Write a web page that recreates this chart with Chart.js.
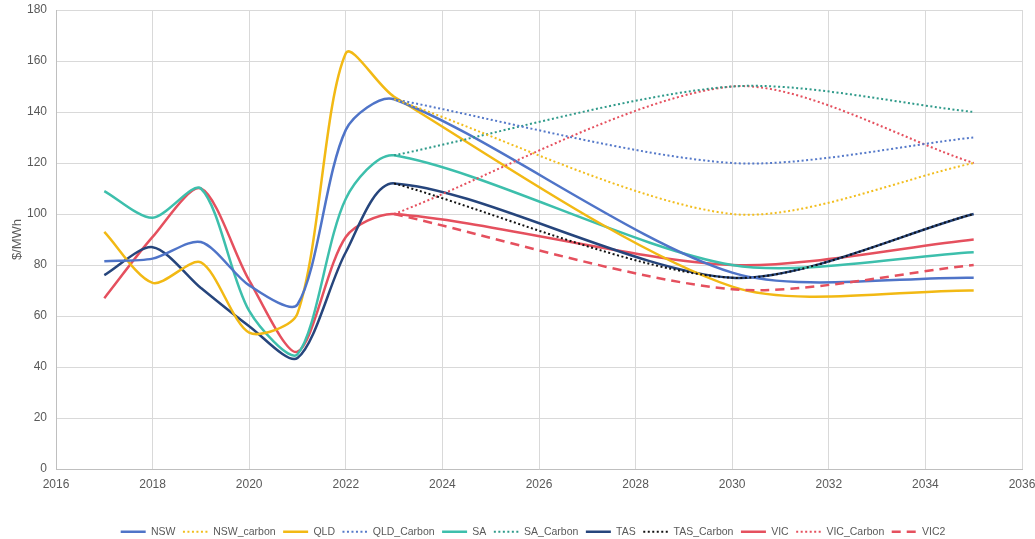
<!DOCTYPE html>
<html>
<head>
<meta charset="utf-8">
<script src="https://cdn.jsdelivr.net/npm/chart.js@4/dist/chart.umd.min.js"></script>
<style>
  html, body { margin: 0; padding: 0; background: #fff; }
  #wrap { width: 1035px; height: 539px; }
</style>
</head>
<body>
<div id="wrap"><canvas id="priceChart"></canvas></div>
<script>
// years for the base series and for the carbon scenarios
const years = [2017, 2018, 2019, 2020, 2021, 2022, 2023, 2030, 2035];
const carbonYears = [2023, 2030, 2035];

// base series ($/MWh)
const nsw = [81.5, 82.5, 89, 72, 64.5, 133, 145, 77, 75];
const qld = [93, 73, 81, 53.5, 61, 163, 146, 71.5, 70];
const sa  = [109, 98.5, 110, 62, 45, 106, 123, 80, 85];
const tas = [76, 87, 71, 56, 43.5, 85, 112, 75, 100];
const vic = [67, 91, 110, 74, 46, 91, 100, 80, 90];

// carbon series
const nswCarbon = [145, 100, 120];
const qldCarbon = [145, 120, 130];
const saCarbon  = [123, 150, 140];
const tasCarbon = [112, 75, 100];
const vicCarbon = [100, 150, 120];
const vic2      = [100, 70.5, 80];

const yTicks = [0, 20, 40, 60, 80, 100, 120, 140, 160, 180];
const xTicks = [2016, 2018, 2020, 2022, 2024, 2026, 2028, 2030, 2032, 2034, 2036];

function pts(xs, ys){
    return xs.map((x, i) => ({x: x, y: ys[i]}));
}

const DOT = [2, 2.5];
const DASH = [9, 6];
const TENSION = 0.28;

function solid(label, xs, ys, color){
    return {label: label, data: pts(xs, ys), borderColor: color, backgroundColor: color,
        borderWidth: 2.5, pointRadius: 0, tension: TENSION, order: 1};
}
function dotted(label, xs, ys, color, dash){
    return {label: label, data: pts(xs, ys), borderColor: color, backgroundColor: color,
        borderWidth: 2, borderDash: dash || DOT, pointRadius: 0, tension: TENSION, order: 0};
}

const datasets = [
    solid('NSW', years, nsw, '#4f74c8'),
    dotted('NSW_carbon', carbonYears, nswCarbon, '#f2bd1d'),
    solid('QLD', years, qld, '#f2b914'),
    dotted('QLD_Carbon', carbonYears, qldCarbon, '#5579c9'),
    solid('SA', years, sa, '#3dbfac'),
    dotted('SA_Carbon', carbonYears, saCarbon, '#2f9a8a'),
    solid('TAS', years, tas, '#26457c'),
    dotted('TAS_Carbon', carbonYears, tasCarbon, '#111111'),
    solid('VIC', years, vic, '#e5505e'),
    dotted('VIC_Carbon', carbonYears, vicCarbon, '#e5505e'),
    dotted('VIC2', carbonYears, vic2, '#e5505e', DASH)
];
datasets[10].borderWidth = 2.5;

const textColor = '#595959';
const gridColor = '#d9d9d9';
const FONT = 'Liberation Sans, Arial, sans-serif';

// the legend in the picture sits a little right of centre
const shiftLegend = {
    id: 'shiftLegend',
    afterLayout(chart){
        if (chart.legend){
            chart.legend.left += 22;
            chart.legend.right += 22;
        }
    }
};

// legend samples take the line style of the dataset, not of its points
function legendLabels(chart){
    const items = Chart.defaults.plugins.legend.labels.generateLabels(chart);
    items.forEach(item => {
        const ds = chart.data.datasets[item.datasetIndex];
        item.lineDash = ds.borderDash || [];
        item.lineWidth = ds.borderWidth;
        item.strokeStyle = ds.borderColor;
        item.fillStyle = ds.borderColor;
    });
    return items;
}

new Chart(document.getElementById('priceChart'), {
    type: 'line',
    data: { datasets: datasets },
    plugins: [shiftLegend],
    options: {
        responsive: true,
        maintainAspectRatio: false,
        animation: false,
        layout: { padding: { top: 10, right: 13, left: 0, bottom: -8 } },
        plugins: {
            tooltip: { enabled: false },
            legend: {
                position: 'bottom',
                labels: {
                    usePointStyle: true,
                    pointStyle: 'line',
                    pointStyleWidth: 25,
                    padding: 7.5,
                    color: textColor,
                    font: { family: FONT, size: 10.5 },
                    generateLabels: legendLabels,
                    sort: (a, b) => a.datasetIndex - b.datasetIndex
                }
            }
        },
        scales: {
            x: {
                type: 'linear',
                min: 2016,
                max: 2036,
                afterBuildTicks: (scale) => { scale.ticks = xTicks.map(v => ({value: v})); },
                ticks: {
                    color: textColor,
                    padding: 8,
                    maxRotation: 0,
                    font: { family: FONT, size: 12 },
                    callback: (v) => String(v)
                },
                grid: { color: gridColor, drawTicks: false },
                border: { color: '#bfbfbf' },
                afterFit: (scale) => {
                    scale.height = 50;
                    scale.paddingLeft = 0;
                    scale.paddingRight = 0;
                }
            },
            y: {
                min: 0,
                max: 180,
                afterBuildTicks: (scale) => { scale.ticks = yTicks.map(v => ({value: v})); },
                ticks: {
                    color: textColor,
                    padding: 9,
                    font: { family: FONT, size: 12 }
                },
                title: {
                    display: true,
                    text: '$/MWh',
                    color: textColor,
                    padding: { top: 10, bottom: 0 },
                    font: { family: FONT, size: 13 }
                },
                grid: { color: gridColor, drawTicks: false },
                border: { color: '#bfbfbf' },
                afterFit: (scale) => {
                    scale.width = 56;
                    scale.paddingTop = 0;
                    scale.paddingBottom = 0;
                }
            }
        }
    }
});
</script>
</body>
</html>
